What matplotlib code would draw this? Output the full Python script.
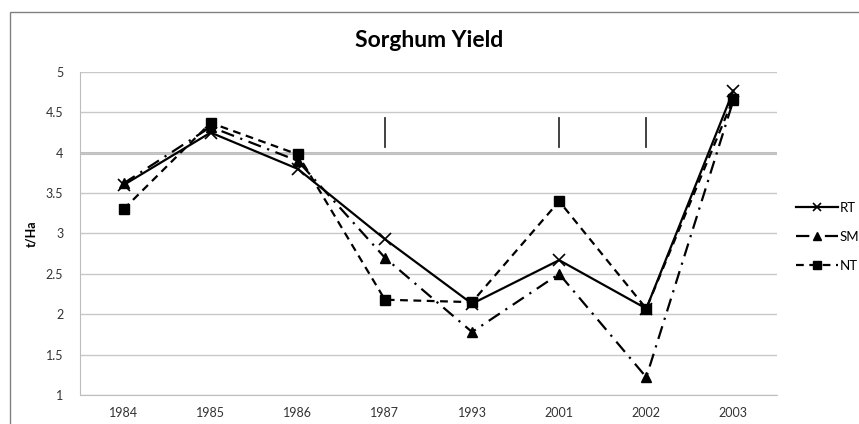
import numpy as np
import matplotlib.pyplot as plt
from matplotlib.patches import Rectangle

plt.rcParams['font.family'] = ['Lato', 'DejaVu Sans']

years = ['1984', '1985', '1986', '1987', '1993', '2001', '2002', '2003']
rt = [3.60, 4.25, 3.80, 2.93, 2.13, 2.67, 2.07, 4.77]
sm = [3.62, 4.32, 3.90, 2.70, 1.78, 2.50, 1.22, 4.65]
nt = [3.30, 4.37, 3.98, 2.18, 2.15, 3.40, 2.07, 4.67]

# significance marks above some years
mark_years = ['1987', '2001', '2002']
mark_lo, mark_hi = 4.07, 4.43

fig = plt.figure(figsize=(8.59, 4.24), dpi=100)
ax = fig.add_axes([0.0931, 0.0684, 0.8114, 0.7618])

# outer chart border
fig.patches.append(Rectangle((0.0116, -0.05), 1.05, 1.022, transform=fig.transFigure,
                             fill=False, edgecolor='#808080', linewidth=1.0))

x = np.arange(len(years))
ax.plot(x, rt, color='black', linestyle='-', linewidth=1.6, marker='x',
        markersize=8, markeredgewidth=1.2, label='RT')
ax.plot(x, sm, color='black', linestyle=(0, (6, 3, 1, 3)), linewidth=1.6, marker='^',
        markersize=7, label='SM')
ax.plot(x, nt, color='black', linestyle=(0, (3.5, 2.5)), linewidth=1.6, marker='s',
        markersize=7, label='NT')

for yr in mark_years:
    i = years.index(yr)
    ax.plot([i, i], [mark_lo, mark_hi], color='#333333', linewidth=1.3)

ax.set_xlim(-0.5, len(years) - 0.5)
ax.set_ylim(1, 5)
ax.set_yticks(np.arange(1, 5.01, 0.5))
ax.set_yticklabels(['1', '1.5', '2', '2.5', '3', '3.5', '4', '4.5', '5'])
ax.set_xticks(x)
ax.set_xticklabels(years)
ax.tick_params(axis='both', length=0, labelsize=9, colors='#333333')
ax.tick_params(axis='x', pad=9)
ax.tick_params(axis='y', pad=12)

ax.grid(axis='y', color='#c8c8c8', linewidth=1.0)
ax.set_axisbelow(True)
ax.axhline(4, color='#bdbdbd', linewidth=2.2, zorder=0)
for s in ['top', 'right']:
    ax.spines[s].set_visible(False)
ax.spines['left'].set_color('#bdbdbd')
ax.spines['bottom'].set_color('#bdbdbd')

ax.set_ylabel('t/Ha', fontsize=9, fontweight='bold', labelpad=6)
fig.text(0.5, 0.905, 'Sorghum Yield', ha='center', va='center', fontsize=16.5, fontweight='bold')

ax.legend(loc='center left', bbox_to_anchor=(1.01, 0.49), frameon=False, fontsize=9.5,
          handlelength=3.2, handletextpad=0.1, labelspacing=1.3, markerscale=0.8)

fig.savefig('out.png', dpi=100)
